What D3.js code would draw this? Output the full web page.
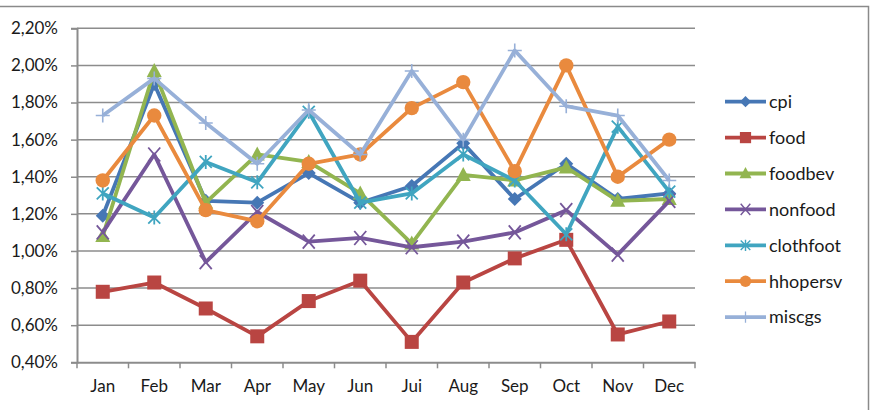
<!DOCTYPE html>
<html>
<head>
<meta charset="utf-8">
<script src="https://cdn.jsdelivr.net/npm/d3@7"></script>
<style>
  body { margin: 0; background: #fff; }
  text { font-family: Lato, "Open Sans", sans-serif; fill: #1a1a1a; }
</style>
</head>
<body>
<script>
var months = ['Jan', 'Feb', 'Mar', 'Apr', 'May', 'Jun', 'Jui', 'Aug', 'Sep', 'Oct', 'Nov', 'Dec'];
var yTicks = [0.4, 0.6, 0.8, 1.0, 1.2, 1.4, 1.6, 1.8, 2.0, 2.2];

var cpi       = [1.19, 1.90, 1.27, 1.26, 1.42, 1.26, 1.35, 1.58, 1.28, 1.47, 1.28, 1.31];
var food      = [0.78, 0.83, 0.69, 0.54, 0.73, 0.84, 0.51, 0.83, 0.96, 1.06, 0.55, 0.62];
var foodbev   = [1.08, 1.97, 1.26, 1.52, 1.48, 1.31, 1.04, 1.41, 1.38, 1.45, 1.27, 1.28];
var nonfood   = [1.10, 1.52, 0.94, 1.21, 1.05, 1.07, 1.02, 1.05, 1.10, 1.22, 0.98, 1.27];
var clothfoot = [1.31, 1.18, 1.48, 1.37, 1.75, 1.26, 1.31, 1.52, 1.38, 1.09, 1.67, 1.32];
var hhopersv  = [1.38, 1.73, 1.22, 1.16, 1.47, 1.52, 1.77, 1.91, 1.43, 2.00, 1.40, 1.60];
var miscgs    = [1.73, 1.93, 1.69, 1.47, 1.76, 1.52, 1.97, 1.60, 2.08, 1.78, 1.73, 1.38];

var seriesNames = ['cpi', 'food', 'foodbev', 'nonfood', 'clothfoot', 'hhopersv', 'miscgs'];
var seriesValues = [cpi, food, foodbev, nonfood, clothfoot, hhopersv, miscgs];
var colors = ['#4677b5', '#b94542', '#92b550', '#75579a', '#40a5c0', '#e98a3e', '#97b0d8'];
var markers = ['diamond', 'square', 'triangle', 'x', 'star', 'circle', 'plus'];

var width = 876, height = 410;
var svg = d3.select('body').append('svg')
  .attr('width', width)
  .attr('height', height);

// outer chart frame
svg.append('rect')
  .attr('x', -2).attr('y', 6.5)
  .attr('width', 870.5).attr('height', 420)
  .attr('fill', 'none').attr('stroke', '#8a8a8a').attr('stroke-width', 1.5);

var x = d3.scaleBand().domain(months).range([77, 695]);
var y = d3.scaleLinear().domain([0.4, 2.2]).range([362.3, 28.3]);
var fmt = function(v) { return d3.format('.2f')(v).replace('.', ',') + '%'; };

// gridlines
svg.selectAll('line.grid').data(yTicks.slice(1)).enter()
  .append('line')
  .attr('x1', 77).attr('x2', 695)
  .attr('y1', function(d) { return y(d); })
  .attr('y2', function(d) { return y(d); })
  .attr('stroke', '#8c8c8c').attr('stroke-width', 1.5);

// y axis
var yAxis = d3.axisLeft(y).tickValues(yTicks).tickFormat(fmt).tickSize(6).tickPadding(13);
var gy = svg.append('g').attr('transform', 'translate(77,0)').call(yAxis);
gy.select('.domain').attr('stroke', '#8c8c8c').attr('stroke-width', 2);
gy.selectAll('.tick line').attr('stroke', '#8c8c8c').attr('stroke-width', 1.5);
gy.selectAll('.tick text').attr('font-size', 17).attr('font-family', 'Lato').attr('fill', '#1a1a1a');

// x axis
var xAxis = d3.axisBottom(x).tickSize(0).tickPadding(18);
var gx = svg.append('g').attr('transform', 'translate(0,' + y(0.4) + ')').call(xAxis);
gx.select('.domain').attr('stroke', '#8c8c8c').attr('stroke-width', 2);
gx.selectAll('.tick text').attr('font-size', 17).attr('font-family', 'Lato').attr('fill', '#1a1a1a');
var bounds = months.map(function(m) { return x(m); }).concat([x.range()[1]]);
gx.selectAll('line.xt').data(bounds).enter()
  .append('line')
  .attr('x1', function(d) { return d; }).attr('x2', function(d) { return d; })
  .attr('y1', 0).attr('y2', 6)
  .attr('stroke', '#8c8c8c').attr('stroke-width', 1.5);

var cx = function(i) { return x(months[i]) + x.bandwidth() / 2; };

// marker drawing
function drawMarker(g, type, color) {
  if (type === 'diamond') {
    g.append('path').attr('d', 'M0,-7L7,0L0,7L-7,0Z').attr('fill', color);
  } else if (type === 'square') {
    g.append('rect').attr('x', -7).attr('y', -7).attr('width', 14).attr('height', 14).attr('fill', color);
  } else if (type === 'triangle') {
    g.append('path').attr('d', 'M0,-8L7.5,6L-7.5,6Z').attr('fill', color);
  } else if (type === 'circle') {
    g.append('circle').attr('r', 7.2).attr('fill', color);
  } else if (type === 'x') {
    g.append('path').attr('d', 'M-6,-7L6,7M-6,7L6,-7')
      .attr('stroke', color).attr('stroke-width', 1.8).attr('fill', 'none');
  } else if (type === 'star') {
    g.append('path').attr('d', 'M-6,-6L6,6M-6,6L6,-6M0,-7L0,7')
      .attr('stroke', color).attr('stroke-width', 1.8).attr('fill', 'none');
  } else if (type === 'plus') {
    g.append('path').attr('d', 'M-7,0L7,0M0,-7L0,7')
      .attr('stroke', color).attr('stroke-width', 1.6).attr('fill', 'none');
  }
}

var line = d3.line()
  .x(function(d, i) { return cx(i); })
  .y(function(d) { return y(d); });

seriesValues.forEach(function(vals, s) {
  var g = svg.append('g');
  g.append('path')
    .attr('d', line(vals))
    .attr('fill', 'none')
    .attr('stroke', colors[s])
    .attr('stroke-width', 3.8)
    .attr('stroke-linejoin', 'round');
  vals.forEach(function(v, i) {
    var m = g.append('g').attr('transform', 'translate(' + cx(i) + ',' + y(v) + ')');
    drawMarker(m, markers[s], colors[s]);
  });
});

// legend
var legend = svg.append('g');
seriesNames.forEach(function(name, s) {
  var ly = 101.7 + s * 35.9;
  var row = legend.append('g').attr('transform', 'translate(0,' + ly + ')');
  row.append('line').attr('x1', 725).attr('x2', 766).attr('y1', 0).attr('y2', 0)
    .attr('stroke', colors[s]).attr('stroke-width', 3.8);
  var m = row.append('g').attr('transform', 'translate(745.5,0) scale(0.8)');
  drawMarker(m, markers[s], colors[s]);
  row.append('text').attr('x', 769).attr('y', 0).attr('dy', '0.35em')
    .attr('font-size', 18).text(name);
});
</script>
</body>
</html>
